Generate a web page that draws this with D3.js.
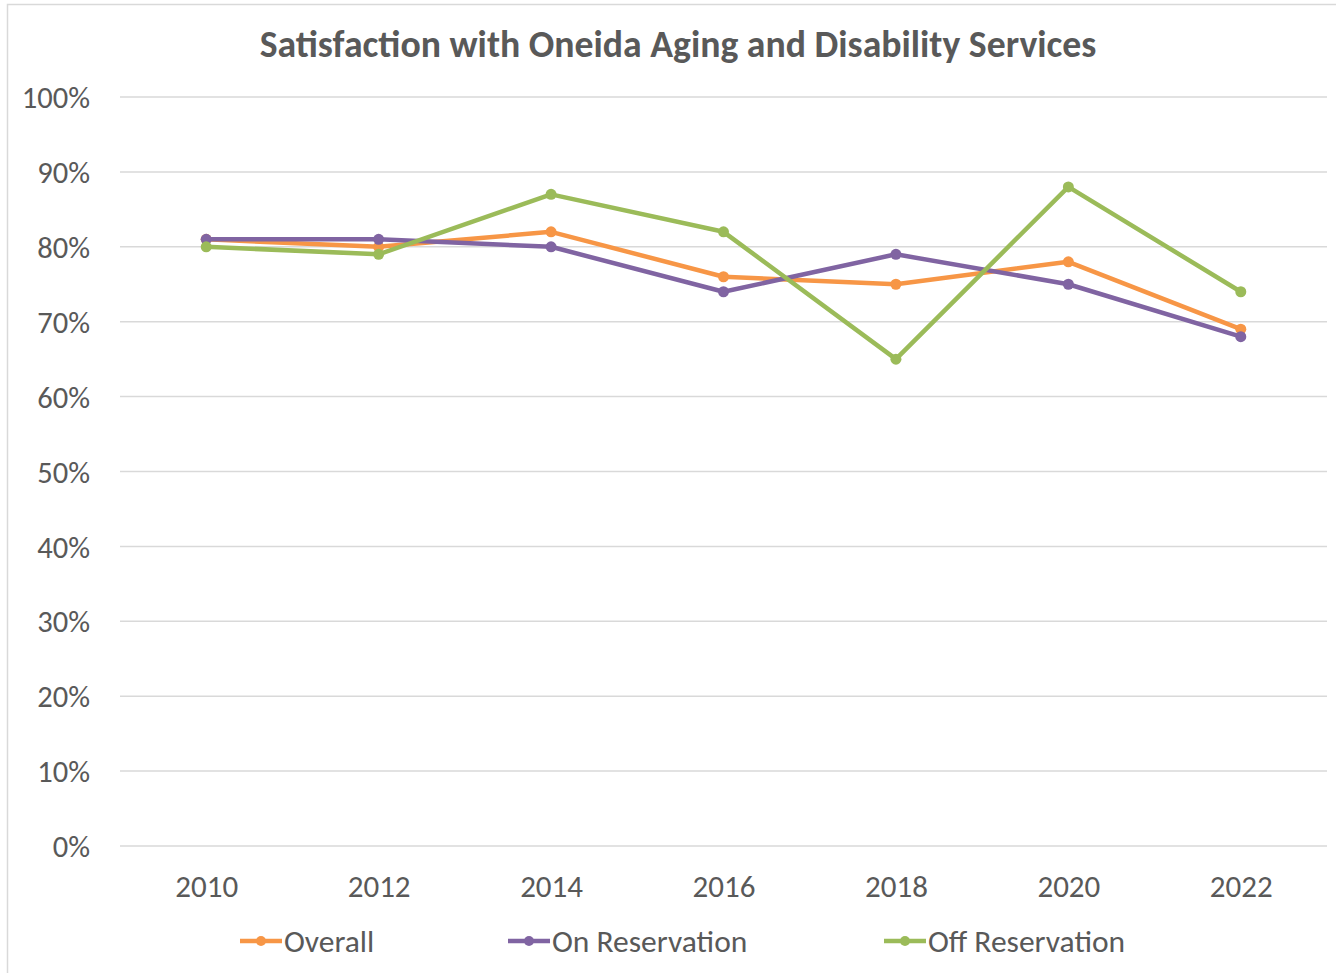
<!DOCTYPE html>
<html><head><meta charset="utf-8">
<script src="https://cdn.jsdelivr.net/npm/d3@7"></script>
<style>body{margin:0;background:#fff}svg{display:block}</style>
</head><body>
<svg id="chart" width="1336" height="973"></svg>
<script>
const title = "Satisfaction with Oneida Aging and Disability Services";
const years = ["2010","2012","2014","2016","2018","2020","2022"];
const overall = [0.81, 0.80, 0.82, 0.76, 0.75, 0.78, 0.69];
const onReservation = [0.81, 0.81, 0.80, 0.74, 0.79, 0.75, 0.68];
const offReservation = [0.80, 0.79, 0.87, 0.82, 0.65, 0.88, 0.74];
const seriesNames = ["Overall", "On Reservation", "Off Reservation"];
const seriesColors = ["#F79646", "#8064A2", "#9BBB59"];
const yTicks = [0,0.1,0.2,0.3,0.4,0.5,0.6,0.7,0.8,0.9,1.0];

const series = [overall, onReservation, offReservation].map((v,i)=>({name:seriesNames[i], color:seriesColors[i], values:v}));
const svg = d3.select("#chart");
const font = "Carlito, Calibri, 'Open Sans', sans-serif";

// chart border
svg.append("path").attr("d","M7.5,973 V4.5 H1336").attr("fill","none").attr("stroke","#d9d9d9").attr("stroke-width",1.5);

const x = d3.scalePoint().domain(years).range([120,1327]).padding(0.5);
const y = d3.scaleLinear().domain([0,1]).range([846,97]);

// gridlines
svg.append("g").selectAll("line").data(yTicks).join("line")
  .attr("x1",120).attr("x2",1327).attr("y1",d=>y(d)).attr("y2",d=>y(d))
  .attr("stroke","#d9d9d9").attr("stroke-width",1.5);

// y axis
const yAxis = svg.append("g").attr("transform","translate(90,0)")
  .call(d3.axisLeft(y).tickValues(yTicks).tickFormat(d3.format(".0%")).tickSize(0).tickPadding(0));
yAxis.select(".domain").remove();
yAxis.selectAll("text").attr("font-family",font).attr("font-size",30.5).attr("fill","#595959").attr("dy","0.35em");

// x axis
const xAxis = svg.append("g").attr("transform","translate(0,886)")
  .call(d3.axisBottom(x).tickSize(0).tickPadding(0));
xAxis.select(".domain").remove();
xAxis.selectAll("text").attr("font-family",font).attr("font-size",31).attr("fill","#595959").attr("dy","0.35em");

// lines
const line = d3.line().x((d,i)=>x(years[i])).y(d=>y(d));
series.forEach(s=>{
  const g = svg.append("g");
  g.append("path").attr("d",line(s.values)).attr("fill","none").attr("stroke",s.color)
    .attr("stroke-width",4.5).attr("stroke-linejoin","round").attr("stroke-linecap","round");
  g.selectAll("circle").data(s.values).join("circle")
    .attr("cx",(d,i)=>x(years[i])).attr("cy",d=>y(d)).attr("r",5.5).attr("fill",s.color);
});

// title
const t = svg.append("text").attr("x",678).attr("y",44).attr("text-anchor","middle").attr("dy","0.35em")
  .attr("font-family",font).attr("font-weight","bold").attr("font-size",31).attr("fill","#595959").text(title);
const tw = t.node().getComputedTextLength();
t.attr("font-size",31*837/tw);

// legend
const legendX = [240, 508, 884];
series.forEach((s,i)=>{
  const g = svg.append("g").attr("transform",`translate(${legendX[i]},941)`);
  g.append("line").attr("x1",0).attr("x2",42).attr("stroke",s.color).attr("stroke-width",4.5);
  g.append("circle").attr("cx",21).attr("r",5).attr("fill",s.color);
  g.append("text").attr("x",44).attr("dy","0.35em").attr("font-family",font).attr("font-size",31.5)
    .attr("fill","#595959").text(s.name);
});
</script>
</body></html>
